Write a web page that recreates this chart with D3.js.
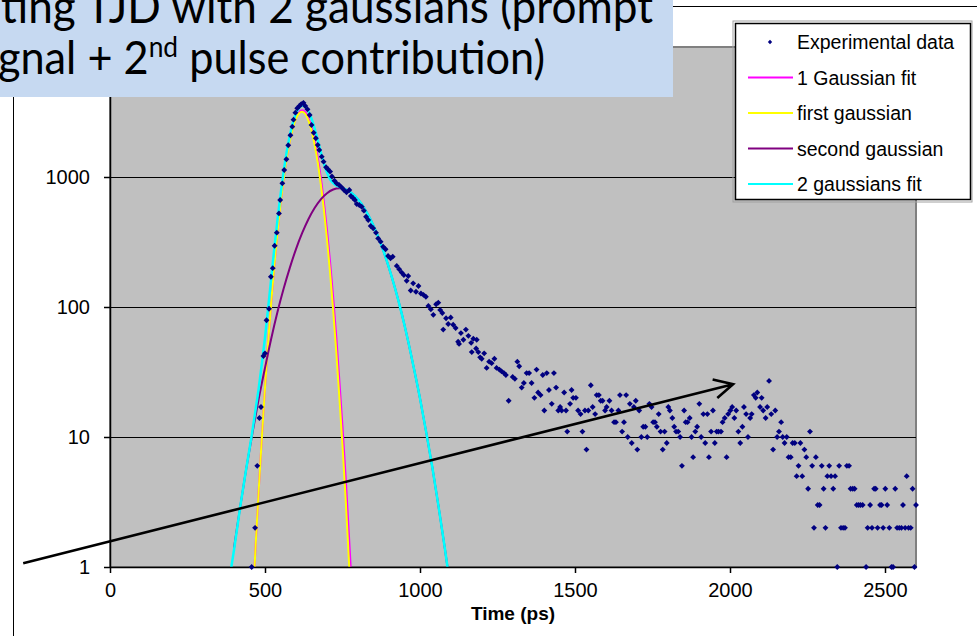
<!DOCTYPE html>
<html lang="en">
<head>
<meta charset="utf-8">
<title>Fitting TJD with 2 gaussians</title>
<script src="https://cdn.jsdelivr.net/npm/d3@7"></script>
<style>
  body { margin: 0; background: #fff; }
  svg { display: block; }
  .axis text { font-family: "Liberation Sans", Arial, sans-serif; font-size: 20px; fill: #000; }
  .axis path, .axis line { stroke: #000; stroke-width: 1.5px; }
</style>
</head>
<body>
<script>
// experimental data : time (ps) and counts
var expTime = [457,468,475,482,487,495,500,505,513,519,525,531,538,545,549,556,562,569,575,582,
  588,592,598,604,611,617,624,630,637,644,650,657,664,670,675,683,689,697,703,710,
  716,724,731,739,747,755,763,772,777,784,790,796,804,812,819,826,833,841,849,858,
  865,873,881,889,897,905,912,925,933,941,948,957,962,970,978,987,995,1003,1011,1019,
  1027,1035,1043,1052,1059,1065,1072,1075,1084,1091,1099,1107,1115,1123,1126,1132,1140,1148,1156,1165,
  1167,1172,1181,1183,1188,1194,1199,1207,1215,1223,1231,1240,1247,1256,1263,1271,1277,1286,1299,1306,
  1314,1320,1328,1335,1344,1352,1360,1369,1376,1381,1389,1396,1401,1409,1416,1425,1432,1439,1446,1452,
  1457,1465,1471,1475,1484,1489,1494,1503,1510,1518,1524,1532,1537,1543,1551,1557,1565,1570,1577,1583,
  1589,1597,1602,1611,1618,1626,1632,1640,1645,1652,1658,1665,1670,1677,1683,1690,1696,1701,1707,1714,
  1720,1727,1733,1740,1747,1752,1758,1764,1770,1776,1783,1789,1796,1801,1806,1814,1820,1826,1833,1839,
  1845,1852,1857,1863,1870,1876,1881,1888,1894,1901,1907,1914,1920,1927,1932,1939,1945,1951,1957,1963,
  1971,1976,1983,1989,1994,2001,2007,2014,2020,2027,2033,2040,2045,2052,2058,2065,2070,2077,2083,2088,
  2097,2102,2107,2115,2120,2126,2133,2139,2146,2152,2158,2165,2170,2176,2183,2189,2196,2202,2209,2215,
  2221,2227,2233,2240,2246,2252,2258,2265,2271,2277,2283,2289,2296,2302,2308,2314,2320,2326,2333,2339,
  2346,2352,2358,2365,2371,2377,2384,2389,2396,2402,2409,2415,2421,2428,2439,2444,2452,2458,2465,2470,
  2476,2484,2489,2494,2501,2507,2514,2521,2526,2533,2539,2546,2553,2558,2565,2570,2576,2583,2589,2595,
  2600];
var expCounts = [1,2,6,14,17,42,44,79,97,171,199,296,373,525,665,894,1132,1369,1754,2095,
  2440,2760,3125,3376,3516,3636,3720,3516,3314,2998,2512,2190,1986,1762,1613,1433,1312,1188,1146,1100,
  1010,937,894,867,833,794,762,794,714,690,665,620,609,591,551,495,467,420,403,373,
  337,318,291,278,247,237,244,207,195,184,176,159,173,134,152,131,145,127,124,120,
  102,96,87,105,108,95,90,67,82,74,83,73,69,54,52,63,56,67,60,53,
  45,57,48,56,45,41,40,44,34,38,37,40,34,33,32,31,30,19,29,28,
  38,35,24,26,31,31,26,20,33,22,21,30,16,31,23,18,31,24,16,17,
  16,22,16,11,18,23,20,20,16,15,11,16,8,16,25,17,15,21,21,19,
  19,16,17,19,16,13,13,16,21,11,13,21,10,18,9,17,19,8,16,10,
  12,12,10,18,17,13,13,12,15,11,8,11,9,17,16,14,12,11,11,10,
  6,16,13,13,14,10,7,11,12,18,10,15,9,15,7,11,16,9,11,11,
  11,13,14,7,15,16,17,14,16,11,9,12,17,15,10,14,15,21,20,22,
  17,20,16,14,17,27,15,8,16,10,11,13,10,9,10,7,7,9,9,5,
  6,9,5,8,7,4,11,6,2,7,3,3,6,4,2,5,6,5,4,5,
  1,6,2,2,2,6,6,4,4,4,3,3,3,3,1,2,3,2,4,4,
  2,3,3,2,4,3,2,1,1,4,2,2,2,3,2,5,2,2,4,1,
  3];

// first gaussian and 1 gaussian fit
var gaussTime = [460,470,480,490,500,510,520,530,540,550,560,570,580,590,600,610,620,630,640,650,
  660,670,680,690,700,710,720,730,740,750,760,770,780,790];
var firstGauss = [0.5,1.5,4,10,24,53,108,207,370,616,958,1390,1880,2380,2810,3090,3180,3050,2730,2285,
  1780,1300,880,560,330,183,94,45,20,8.6,3.4,1.2,0.42,0.13];
var oneGaussFit = [0.5,1.5,4,10,24,53,108,207,372,620,965,1400,1900,2410,2850,3150,3260,3150,2850,2410,
  1900,1420,990,640,390,222,118,59,27,12,5,1.9,0.7,0.24];

// second gaussian
var secondTime = [400,420,440,460,480,500,520,540,560,580,600,620,640,660,680,700,720,740,760,780,
  800,820,840,860,880,900,920,940,960,980,1000,1020,1040,1060,1080,1100];
var secondGauss = [1.4,2.9,5.8,10.9,19.8,34,57,91,138,200,279,371,473,577,673,751,802,820,802,751,
  673,577,473,371,279,200,138,91,57,34,19.8,10.9,5.8,2.9,1.4,0.64];

// 2 gaussians fit
var twoTime = [390,400,420,440,460,470,480,490,500,510,520,530,540,550,560,570,580,590,600,610,
  620,630,640,650,660,670,680,690,700,710,720,740,760,780,800,820,840,860,880,900,
  920,940,960,980,1000,1020,1040,1060,1080,1100];
var twoGaussFit = [0.95,1.35,2.9,5.8,11.4,16.5,24,37,58,98,165,281,461,728,1096,1557,2080,2618,3089,3415,
  3551,3470,3203,2810,2357,1925,1553,1273,1081,961,896,840,802,751,673,577,473,371,279,200,
  138,91,57,34,19.8,10.9,5.8,2.9,1.4,0.64];

var xTicks = [0, 500, 1000, 1500, 2000, 2500];
var yTicks = [1, 10, 100, 1000, 10000];
var gridValues = [10, 100, 1000];

var legendNames = ["Experimental data", "1 Gaussian fit", "first gaussian", "second gaussian", "2 gaussians fit"];
var seriesColors = ["#000080", "#ff00ff", "#ffff00", "#800080", "#00ffff"];

// annotation arrow, in data units (time, counts)
var arrowFrom = [-280, 1.07];
var arrowTo = [2010, 25.5];

var W = 977, H = 636;
var plot = {left: 110, right: 916, top: 47, bottom: 567};

var x = d3.scaleLinear().domain([0, 2600]).range([plot.left, plot.right]);
var y = d3.scaleLog().domain([1, 10000]).range([plot.bottom, plot.top]);

var svg = d3.select("body").append("svg")
  .attr("width", W)
  .attr("height", H);

svg.append("rect").attr("width", W).attr("height", H).attr("fill", "#fff");

// chart area border
svg.append("path")
  .attr("d", "M13.5," + H + "V6.5H" + W)
  .attr("fill", "none")
  .attr("stroke", "#000");

// plot area
svg.append("rect")
  .attr("x", plot.left)
  .attr("y", plot.top)
  .attr("width", plot.right - plot.left)
  .attr("height", plot.bottom - plot.top)
  .attr("fill", "#c0c0c0")
  .attr("stroke", "#808080")
  .attr("stroke-width", 2);

svg.append("g").selectAll("line")
  .data(gridValues)
  .enter().append("line")
  .attr("x1", plot.left).attr("x2", plot.right)
  .attr("y1", function(d) { return Math.round(y(d)) + 0.5; })
  .attr("y2", function(d) { return Math.round(y(d)) + 0.5; })
  .attr("stroke", "#000")
  .attr("stroke-width", 1.2);

svg.append("clipPath").attr("id", "clip")
  .append("rect")
  .attr("x", plot.left).attr("y", plot.top)
  .attr("width", plot.right - plot.left)
  .attr("height", plot.bottom - plot.top);

var line = d3.line()
  .x(function(d) { return x(d[0]); })
  .y(function(d) { return y(Math.max(d[1], 0.05)); })
  .curve(d3.curveMonotoneX);

function pairs(ts, vs) {
  return ts.map(function(t, i) { return [t, vs[i]]; });
}

var curves = [
  {pts: pairs(gaussTime, oneGaussFit), color: seriesColors[1], w: 2},
  {pts: pairs(gaussTime, firstGauss), color: seriesColors[2], w: 2},
  {pts: pairs(secondTime, secondGauss), color: seriesColors[3], w: 2},
  {pts: pairs(twoTime, twoGaussFit), color: seriesColors[4], w: 2.5}
];

svg.append("g").attr("clip-path", "url(#clip)")
  .selectAll("path")
  .data(curves)
  .enter().append("path")
  .attr("d", function(d) { return line(d.pts); })
  .attr("fill", "none")
  .attr("stroke", function(d) { return d.color; })
  .attr("stroke-width", function(d) { return d.w; });

// axes
svg.append("g")
  .attr("class", "axis")
  .attr("transform", "translate(" + plot.left + ",0)")
  .call(d3.axisLeft(y).tickValues(yTicks).tickFormat(d3.format("d")).tickSize(6).tickSizeOuter(0).tickPadding(14));

svg.append("g")
  .attr("class", "axis")
  .attr("transform", "translate(0," + plot.bottom + ")")
  .call(d3.axisBottom(x).tickValues(xTicks).tickFormat(d3.format("d")).tickSize(6).tickSizeOuter(0).tickPadding(10));

svg.append("text")
  .attr("x", (plot.left + plot.right) / 2)
  .attr("y", 620)
  .attr("text-anchor", "middle")
  .attr("font-family", "Liberation Sans, Arial, sans-serif")
  .attr("font-weight", "bold")
  .attr("font-size", 19)
  .text("Time (ps)");

// experimental points
var diamond = d3.symbol().type(d3.symbolDiamond2 || d3.symbolSquare).size(22);
svg.append("g").selectAll("path")
  .data(pairs(expTime, expCounts))
  .enter().append("path")
  .attr("transform", function(d) { return "translate(" + x(d[0]) + "," + y(d[1]) + ")"; })
  .attr("d", diamond)
  .attr("fill", seriesColors[0]);

// legend
var legend = svg.append("g").attr("transform", "translate(735,23)");
legend.append("rect")
  .attr("x", -2).attr("y", -2).attr("width", 239).attr("height", 181)
  .attr("fill", "none").attr("stroke", "#a0a0a0");
legend.append("rect")
  .attr("x", 0.5).attr("y", 0.5).attr("width", 235).attr("height", 176)
  .attr("fill", "#fff").attr("stroke", "#000").attr("stroke-width", 1.5);

var item = legend.selectAll(".item")
  .data(legendNames)
  .enter().append("g")
  .attr("class", "item")
  .attr("transform", function(d, i) { return "translate(0," + (19 + i * 35.5) + ")"; });

item.filter(function(d, i) { return i > 0; })
  .append("line")
  .attr("x1", 13).attr("x2", 58)
  .attr("stroke", function(d, i) { return seriesColors[i + 1]; })
  .attr("stroke-width", 2);

item.filter(function(d, i) { return i === 0; })
  .append("path")
  .attr("transform", "translate(35,0)")
  .attr("d", d3.symbol().type(d3.symbolDiamond2 || d3.symbolSquare).size(12))
  .attr("fill", seriesColors[0]);

item.append("text")
  .attr("x", 62)
  .attr("dy", "0.36em")
  .attr("font-family", "Liberation Sans, Arial, sans-serif")
  .attr("font-size", 19.5)
  .text(function(d) { return d; });

// arrow
var p0 = [x(arrowFrom[0]), y(arrowFrom[1])];
var p1 = [x(arrowTo[0]), y(arrowTo[1])];
var ang = Math.atan2(p0[1] - p1[1], p0[0] - p1[0]);
var arm = 21, spread = 27 * Math.PI / 180;
var a1 = [p1[0] + arm * Math.cos(ang - spread), p1[1] + arm * Math.sin(ang - spread)];
var a2 = [p1[0] + arm * Math.cos(ang + spread), p1[1] + arm * Math.sin(ang + spread)];
svg.append("path")
  .attr("d", "M" + p0 + "L" + p1 + "M" + a1 + "L" + p1 + "L" + a2)
  .attr("fill", "none")
  .attr("stroke", "#000")
  .attr("stroke-width", 2.6);

// title box (cut off at the left like the slide)
svg.append("rect")
  .attr("x", 0).attr("y", 0)
  .attr("width", 673).attr("height", 97)
  .attr("fill", "#c6d9f1");

var title = svg.append("g")
  .attr("font-family", "Lato, 'Open Sans', sans-serif")
  .attr("font-size", 46)
  .attr("fill", "#000");

title.append("text")
  .attr("x", 1).attr("y", 23)
  .attr("textLength", 652)
  .attr("lengthAdjust", "spacingAndGlyphs")
  .text("ting TJD with 2 gaussians (prompt");

var t2 = title.append("text")
  .attr("x", -2).attr("y", 74)
  .attr("textLength", 547)
  .attr("lengthAdjust", "spacingAndGlyphs");
t2.append("tspan").text("gnal + 2");
t2.append("tspan").attr("font-size", 28).attr("dy", -17).text("nd");
t2.append("tspan").attr("dy", 17).text(" pulse contribution)");
</script>
</body>
</html>
